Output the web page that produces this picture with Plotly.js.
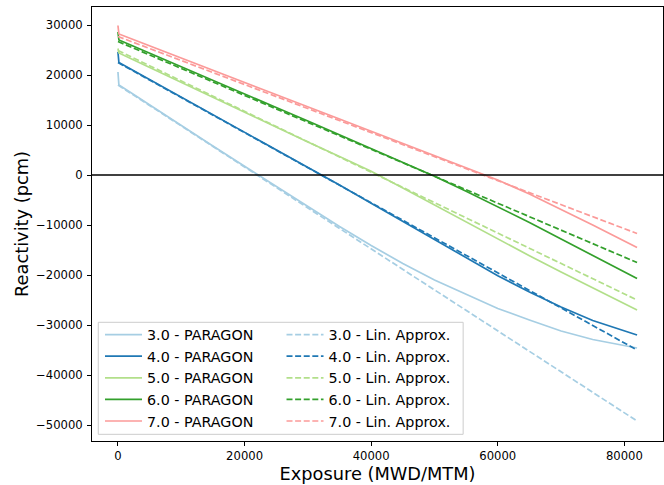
<!DOCTYPE html>
<html>
<head>
<meta charset="utf-8">
<script src="https://cdn.plot.ly/plotly-3.0.1.min.js"></script>
<style>html,body{margin:0;padding:0;background:#fff;}#chart{width:664px;height:485px;}</style>
</head>
<body>
<div id="chart"></div>
<script>
// Exposure grid (MWD/MTM) for PARAGON curves
const exposure = [0, 150, 2000, 5000, 10000, 15000, 20000, 25000, 30000, 35000, 40000, 45000, 50000, 55000, 60000, 65000, 70000, 75000, 82000];
// Reactivity (pcm), PARAGON
const paragon30 = [20600, 18000, 16500, 14000, 9900, 5800, 1750, -2300, -6300, -10300, -14100, -17700, -21000, -23900, -26700, -29000, -31200, -32900, -34600];
const paragon40 = [24600, 22500, 21200, 19100, 15600, 12100, 8600, 5100, 1600, -2000, -5650, -9300, -12950, -16550, -20150, -23400, -26400, -29100, -32000];
const paragon50 = [25300, 24400, 23300, 21500, 18500, 15500, 12500, 9550, 6600, 3700, 750, -2600, -6000, -9400, -12800, -16150, -19400, -22600, -27000];
const paragon60 = [28600, 27000, 26000, 24350, 21600, 18900, 16200, 13500, 10800, 8000, 5250, 2550, -250, -3250, -6300, -9500, -12800, -16100, -20700];
const paragon70 = [29900, 28200, 27300, 25850, 23400, 20950, 18500, 16050, 13650, 11200, 8750, 6350, 3900, 1450, -1000, -3800, -6850, -10000, -14500];
// Linear approximations (endpoints)
const linExposure = [0, 82000];
const lin30 = [18000, -49200];
const lin40 = [22500, -35000];
const lin50 = [24900, -25000];
const lin60 = [26700, -17500];
const lin70 = [27700, -11700];
const enrichLabels = ["3.0", "4.0", "5.0", "6.0", "7.0"];
const colors = ["#a6cee3", "#1f78b4", "#b2df8a", "#33a02c", "#fb9a99"];

const paragonSets = [paragon30, paragon40, paragon50, paragon60, paragon70];
const linSets = [lin30, lin40, lin50, lin60, lin70];

const traces = [];
paragonSets.forEach((ys, i) => {
  traces.push({x: exposure, y: ys, type: 'scatter', mode: 'lines',
    name: enrichLabels[i] + ' - PARAGON', legend: 'legend',
    line: {color: colors[i], width: 1.7}});
});
linSets.forEach((ys, i) => {
  traces.push({x: linExposure, y: ys, type: 'scatter', mode: 'lines',
    name: enrichLabels[i] + ' - Lin. Approx.', legend: 'legend2',
    line: {color: colors[i], width: 1.7, dash: '6px,2.6px'}});
});

const font = 'DejaVu Sans, sans-serif';
function legendCfg(x) {
  return {
    x: x, y: 0.2815, xanchor: 'left', yanchor: 'top',
    bgcolor: 'rgba(0,0,0,0)', borderwidth: 0,
    font: {family: font, size: 14.3, color: '#000'},
    tracegroupgap: 0, itemwidth: 37
  };
}

const layout = {
  width: 664, height: 485,
  margin: {l: 92, r: 1, t: 7, b: 44},
  paper_bgcolor: '#fff', plot_bgcolor: '#fff',
  font: {family: font, color: '#000'},
  showlegend: true,
  xaxis: {
    range: [-4100, 86100], tickvals: [0, 20000, 40000, 60000, 80000],
    ticktext: ['0', '20000', '40000', '60000', '80000'],
    showgrid: false, zeroline: false, showline: true, mirror: true,
    linecolor: '#000', linewidth: 1, ticks: 'outside', ticklen: 4, tickcolor: '#000',
    tickfont: {family: font, size: 11.6, color: '#000'},
    title: {text: 'Exposure (MWD/MTM)', font: {family: font, size: 17.8, color: '#000'}, standoff: 3}
  },
  yaxis: {
    range: [-53200, 33600], tickvals: [-50000, -40000, -30000, -20000, -10000, 0, 10000, 20000, 30000],
    ticktext: ['\u221250000', '\u221240000', '\u221230000', '\u221220000', '\u221210000', '0', '10000', '20000', '30000'],
    showgrid: false, zeroline: false, showline: true, mirror: true,
    linecolor: '#000', linewidth: 1, ticks: 'outside', ticklen: 4, tickcolor: '#000',
    ticklabelstandoff: 2,
    tickfont: {family: font, size: 11.6, color: '#000'},
    title: {text: 'Reactivity (pcm)', font: {family: font, size: 17.8, color: '#000'}, standoff: 2}
  },
  legend: legendCfg(0.0140),
  legend2: legendCfg(0.3319),
  shapes: [
    {type: 'line', xref: 'paper', x0: 0, x1: 1, yref: 'y', y0: 0, y1: 0,
     line: {color: '#000', width: 1.6}, layer: 'above'},
    {type: 'rect', xref: 'paper', yref: 'paper', x0: 0.011, x1: 0.650, y0: 0.0154, y1: 0.2735,
     line: {color: '#cccccc', width: 1}, fillcolor: 'rgba(255,255,255,0.8)', layer: 'above'}
  ]
};

Plotly.newPlot('chart', traces, layout, {displayModeBar: false, staticPlot: true});
</script>
</body>
</html>
